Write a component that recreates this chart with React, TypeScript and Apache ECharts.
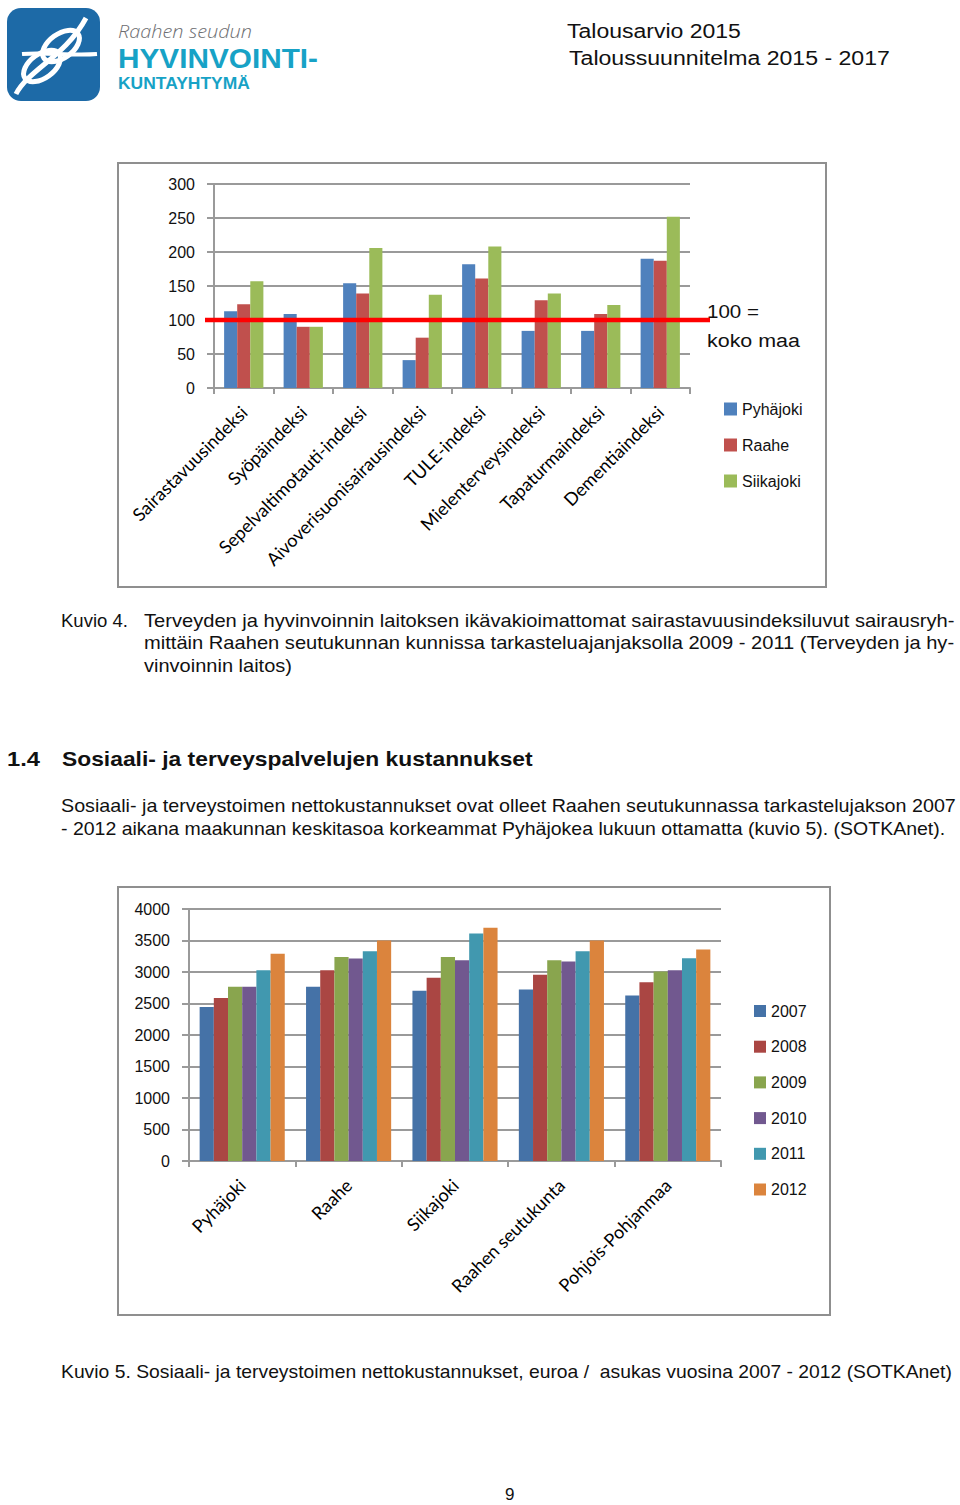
import React, { useEffect, useRef } from "react";
import * as echarts from "echarts";

// ---- Chart 1 data (Kuvio 4) ----
const indexCategories = [
  "Sairastavuusindeksi",
  "Syöpäindeksi",
  "Sepelvaltimotauti-indeksi",
  "Aivoverisuonisairausindeksi",
  "TULE-indeksi",
  "Mielenterveysindeksi",
  "Tapaturmaindeksi",
  "Dementiaindeksi",
];
const indexSeriesNames = ["Pyhäjoki", "Raahe", "Siikajoki"];
const pyhajokiIndex = [113, 109, 154, 41, 182, 84, 84, 190];
const raaheIndex = [123, 90, 139, 74, 161, 129, 109, 187];
const siikajokiIndex = [157, 90, 206, 137, 208, 139, 122, 252];
const indexTicks = [0, 50, 100, 150, 200, 250, 300];
const nationalLevel = 100;

// ---- Chart 2 data (Kuvio 5) ----
const costCategories = ["Pyhäjoki", "Raahe", "Siikajoki", "Raahen seutukunta", "Pohjois-Pohjanmaa"];
const costYears = ["2007", "2008", "2009", "2010", "2011", "2012"];
const cost2007 = [2443, 2765, 2702, 2723, 2628];
const cost2008 = [2586, 3029, 2908, 2955, 2839];
const cost2009 = [2765, 3240, 3240, 3187, 3008];
const cost2010 = [2765, 3214, 3187, 3166, 3029];
const cost2011 = [3029, 3330, 3610, 3330, 3219];
const cost2012 = [3288, 3499, 3704, 3499, 3356];
const costTicks = [0, 500, 1000, 1500, 2000, 2500, 3000, 3500, 4000];

const BODY = '"Liberation Sans", Arial, sans-serif';
const LABEL = 'Lato, "Open Sans", sans-serif';

let measureCtx: CanvasRenderingContext2D | null = null;
function measure(text: string, size: number, family: string, weight: any, style: string) {
  if (!measureCtx) measureCtx = document.createElement("canvas").getContext("2d");
  if (!measureCtx) return 0;
  measureCtx.font = `${style} ${weight} ${size}px ${family}`;
  return measureCtx.measureText(text).width;
}

// text element; optional target width stretches it horizontally (scaleX)
function txt(text: string, x: number, y: number, size: number, width: number = 0, extra: any = {}) {
  const family = extra.fontFamily || BODY;
  const weight = extra.fontWeight || "normal";
  const fstyle = extra.fontStyle || "normal";
  let sx = 1;
  if (width > 0) {
    const w = measure(text, size, family, weight, fstyle);
    if (w > 0) sx = width / w;
  }
  return {
    type: "text",
    silent: true,
    x,
    y,
    scaleX: sx,
    style: {
      text,
      x: 0,
      y: 0,
      fontSize: size,
      fontFamily: BODY,
      fill: "#111",
      textAlign: "left",
      textVerticalAlign: "middle",
      ...extra,
    },
  };
}

export default function App() {
  const ref = useRef<HTMLDivElement>(null);

  useEffect(() => {
    if (!ref.current) return;
    const chart = echarts.init(ref.current, undefined, { renderer: "svg" });

    const c1Colors = ["#4F81BD", "#C0504D", "#9BBB59"];
    const c2Colors = ["#4572A7", "#AA4643", "#89A54E", "#71588F", "#4198AF", "#DB843D"];
    const indexData = [pyhajokiIndex, raaheIndex, siikajokiIndex];
    const costData = [cost2007, cost2008, cost2009, cost2010, cost2011, cost2012];

    const grid1 = { left: 214, top: 184, width: 476, height: 204 };
    const grid2 = { left: 189, top: 909, width: 532, height: 252 };

    const gridLine = { show: true, lineStyle: { color: "#9a9a9a", width: 2 } };
    const axisLine = { show: true, lineStyle: { color: "#9a9a9a", width: 2 } };

    const logo = [
      {
        type: "rect",
        shape: { x: 7, y: 8, width: 93, height: 93, r: 14 },
        style: { fill: "#1D6AA7" },
        silent: true,
      },
      {
        type: "ellipse",
        x: 42,
        y: 66,
        rotation: Math.PI / 5,
        shape: { cx: 0, cy: 0, rx: 21, ry: 12 },
        style: { fill: "none", stroke: "#fff", lineWidth: 5 },
        silent: true,
      },
      {
        type: "ellipse",
        x: 61,
        y: 46,
        rotation: Math.PI / 5,
        shape: { cx: 0, cy: 0, rx: 21, ry: 12 },
        style: { fill: "none", stroke: "#fff", lineWidth: 5 },
        silent: true,
      },
      {
        type: "bezierCurve",
        shape: { x1: 16, y1: 94, x2: 86, y2: 18, cpx1: 28, cpy1: 70, cpx2: 66, cpy2: 56 },
        style: { fill: "none", stroke: "#fff", lineWidth: 5 },
        silent: true,
      },
      {
        type: "bezierCurve",
        shape: { x1: 22, y1: 54, x2: 97, y2: 54, cpx1: 45, cpy1: 52, cpx2: 72, cpy2: 56 },
        style: { fill: "none", stroke: "#fff", lineWidth: 4 },
        silent: true,
      },
      txt("Raahen seudun", 118, 31, 19, 134, {
        fontFamily: '"Open Sans", sans-serif',
        fontStyle: "italic",
        fontWeight: 300,
        fill: "#6d6e71",
      }),
      txt("HYVINVOINTI-", 118, 58, 27, 200, { fontWeight: "bold", fill: "#17A2C6" }),
      txt("KUNTAYHTYMÄ", 118, 83, 17, 132, { fontWeight: "bold", fill: "#17A2C6" }),
    ];

    const B = 17.5;
    const texts = [
      txt("Talousarvio 2015", 567, 31, 21, 174),
      txt("Taloussuunnitelma 2015 - 2017", 569, 58, 21, 321),
      txt("100 =", 707, 311, 19, 52),
      txt("koko maa", 707, 340, 19, 93),
      txt("Kuvio 4.", 61, 621, B, 67),
      txt("Terveyden ja hyvinvoinnin laitoksen ikävakioimattomat sairastavuusindeksiluvut sairausryh-", 144, 621, B, 811),
      txt("mittäin Raahen seutukunnan kunnissa tarkasteluajanjaksolla 2009 - 2011 (Terveyden ja hy-", 144, 643, B, 811),
      txt("vinvoinnin laitos)", 144, 666, B, 148),
      txt("1.4", 7, 759, 20, 33, { fontWeight: "bold" }),
      txt("Sosiaali- ja terveyspalvelujen kustannukset", 62, 759, 20, 471, { fontWeight: "bold" }),
      txt("Sosiaali- ja terveystoimen nettokustannukset ovat olleet Raahen seutukunnassa tarkastelujakson 2007", 61, 806, B, 896),
      txt("- 2012 aikana maakunnan keskitasoa korkeammat Pyhäjokea lukuun ottamatta (kuvio 5). (SOTKAnet).", 61, 829, B, 885),
      txt("Kuvio 5. Sosiaali- ja terveystoimen nettokustannukset, euroa /  asukas vuosina 2007 - 2012 (SOTKAnet)", 61, 1372, B, 891),
      txt("9", 505, 1494, 17),
    ];

    const boxes = [
      {
        type: "rect",
        shape: { x: 118, y: 163, width: 708, height: 424 },
        style: { fill: "none", stroke: "#8f8f8f", lineWidth: 2 },
        silent: true,
      },
      {
        type: "rect",
        shape: { x: 118, y: 887, width: 712, height: 428 },
        style: { fill: "none", stroke: "#8f8f8f", lineWidth: 2 },
        silent: true,
      },
    ];

    const catLabel = {
      rotate: 45,
      interval: 0,
      margin: 21,
      fontFamily: LABEL,
      fontSize: 18,
      color: "#000",
    };

    const option: any = {
      animation: false,
      backgroundColor: "#fff",
      grid: [
        { ...grid1, containLabel: false },
        { ...grid2, containLabel: false },
      ],
      xAxis: [
        {
          type: "category",
          gridIndex: 0,
          data: indexCategories,
          axisLine,
          axisTick: { show: true, length: 6, lineStyle: { color: "#9a9a9a", width: 2 } },
          axisLabel: catLabel,
        },
        {
          type: "category",
          gridIndex: 1,
          data: costCategories,
          axisLine,
          axisTick: { show: true, length: 6, lineStyle: { color: "#9a9a9a", width: 2 } },
          axisLabel: catLabel,
        },
      ],
      yAxis: [
        {
          type: "value",
          gridIndex: 0,
          min: indexTicks[0],
          max: indexTicks[indexTicks.length - 1],
          interval: indexTicks[1] - indexTicks[0],
          axisLine,
          axisTick: { show: true, length: 7, lineStyle: { color: "#9a9a9a", width: 2 } },
          splitLine: gridLine,
          axisLabel: { margin: 19, fontFamily: BODY, fontSize: 16, color: "#111" },
        },
        {
          type: "value",
          gridIndex: 1,
          min: costTicks[0],
          max: costTicks[costTicks.length - 1],
          interval: costTicks[1] - costTicks[0],
          axisLine,
          axisTick: { show: true, length: 7, lineStyle: { color: "#9a9a9a", width: 2 } },
          splitLine: gridLine,
          axisLabel: {
            margin: 19,
            fontFamily: BODY,
            fontSize: 16,
            color: "#111",
            formatter: (v: number) => String(v),
          },
        },
      ],
      legend: [
        {
          orient: "vertical",
          left: 719,
          top: 396,
          data: indexSeriesNames,
          icon: "rect",
          itemWidth: 13,
          itemHeight: 13,
          itemGap: 20,
          textStyle: { fontFamily: BODY, fontSize: 16, color: "#111" },
          selectedMode: false,
        },
        {
          orient: "vertical",
          left: 749,
          top: 998,
          data: costYears,
          icon: "rect",
          itemWidth: 12,
          itemHeight: 12,
          itemGap: 19.7,
          textStyle: { fontFamily: BODY, fontSize: 16, color: "#111" },
          selectedMode: false,
        },
      ],
      series: [
        ...indexSeriesNames.map((name, i) => ({
          type: "bar",
          name,
          xAxisIndex: 0,
          yAxisIndex: 0,
          data: indexData[i],
          barGap: "0%",
          barCategoryGap: "34%",
          itemStyle: { color: c1Colors[i] },
          emphasis: { disabled: true },
        })),
        ...costYears.map((name, i) => ({
          type: "bar",
          name,
          xAxisIndex: 1,
          yAxisIndex: 1,
          data: costData[i],
          barGap: "0%",
          barCategoryGap: "20%",
          itemStyle: { color: c2Colors[i] },
          emphasis: { disabled: true },
        })),
      ],
      graphic: { elements: [...boxes, ...logo, ...texts] },
    };

    chart.setOption(option);

    // national level (100) reference line, positioned through the y-axis scale
    const yPix = chart.convertToPixel({ yAxisIndex: 0 }, nationalLevel) as number;
    chart.setOption({
      graphic: {
        elements: [
          ...boxes,
          ...logo,
          ...texts,
          {
            type: "line",
            id: "national",
            shape: { x1: grid1.left - 9, y1: yPix, x2: grid1.left + grid1.width + 20, y2: yPix },
            style: { stroke: "#FF0000", lineWidth: 4.5 },
            z: 10,
            silent: true,
          },
        ],
      },
    });

    return () => chart.dispose();
  }, []);

  return (
    <div
      ref={ref}
      style={{ position: "absolute", left: 0, top: 0, width: 960, height: 1505, background: "#fff" }}
    />
  );
}
